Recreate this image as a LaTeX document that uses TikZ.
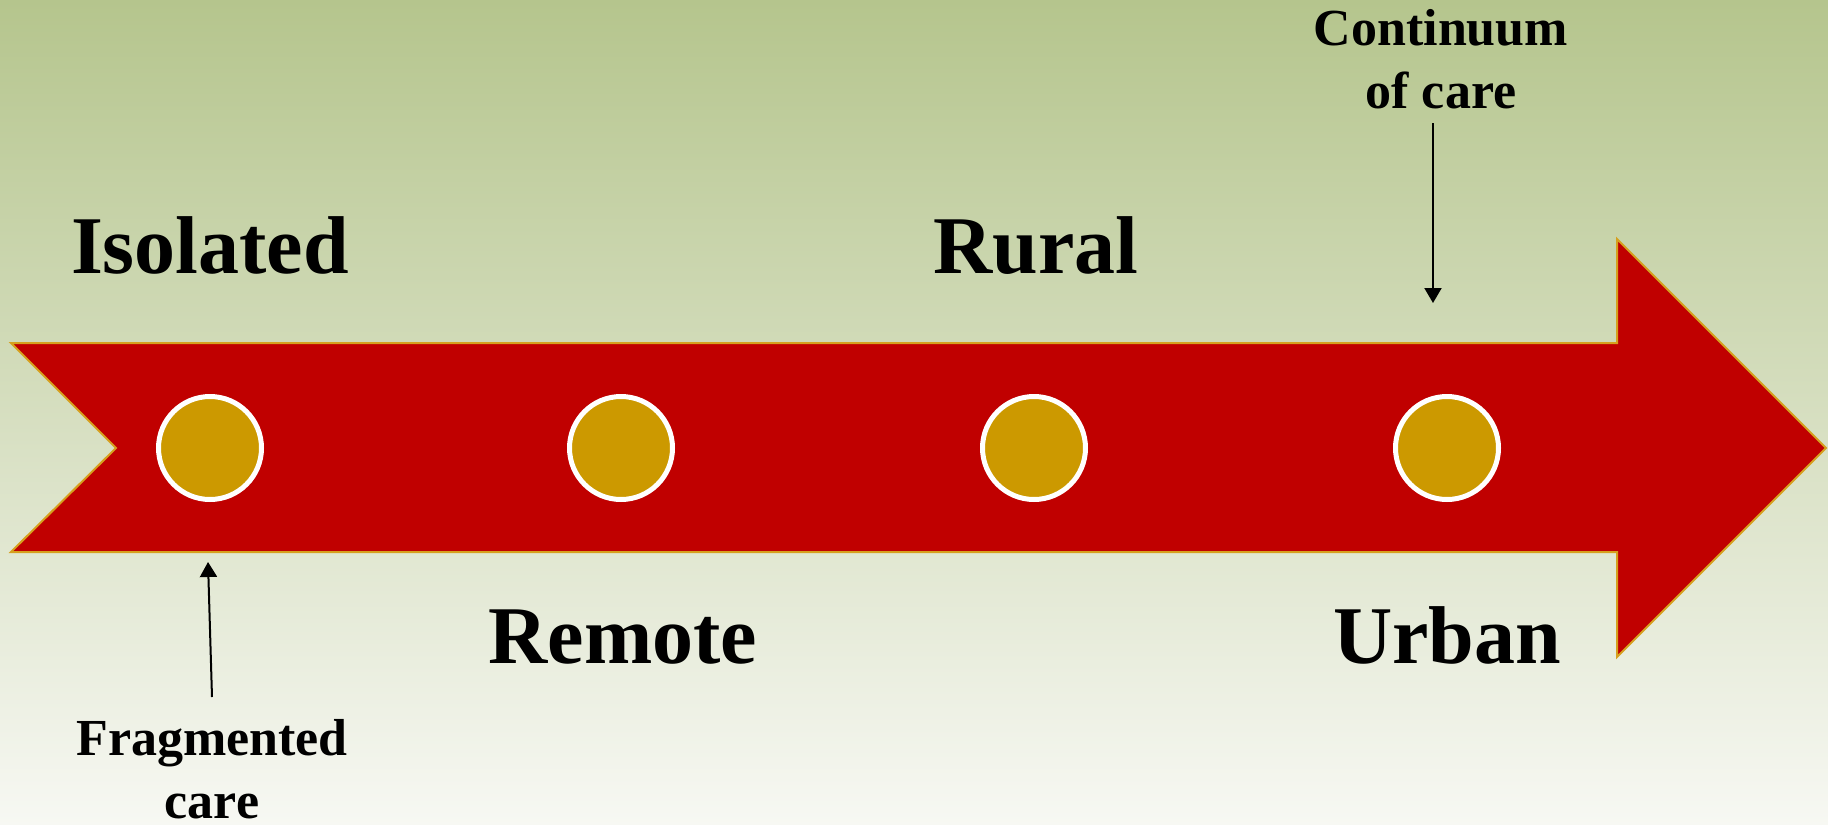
\documentclass[tikz,border=0pt]{standalone}
\usepackage{fontspec}
\setmainfont{Liberation Serif}
\usetikzlibrary{arrows.meta}
\definecolor{bgtop}{RGB}{181,197,141}
\definecolor{bgbot}{RGB}{247,248,243}
\definecolor{bandred}{RGB}{192,0,0}
\definecolor{bandedge}{RGB}{214,160,30}
\definecolor{dotfill}{RGB}{204,153,0}
\tikzset{
  bigtext/.style={font=\fontsize{41}{49}\selectfont\bfseries, anchor=base, inner sep=0pt},
  smalltext/.style={font=\fontsize{26}{31.5}\selectfont\bfseries, anchor=base, inner sep=0pt, align=center},
  dot/.style={circle, draw=white, line width=2.5pt, fill=dotfill, minimum size=51.5pt, inner sep=0pt},
  pointer/.style={draw=black, line width=1pt, -{Triangle[length=7.5pt,width=8.5pt]}},
}
\begin{document}
\begin{tikzpicture}[x=0.5pt,y=-0.5pt]
\useasboundingbox (0,0) rectangle (1828,825);
\shade[top color=bgtop, bottom color=bgbot] (0,0) rectangle (1828,825);
% band arrow
\draw[fill=bandred, draw=bandedge, line width=1pt, line join=miter]
  (11,343) -- (1617,343) -- (1617,239) -- (1826,448) -- (1617,657)
  -- (1617,552) -- (11,552) -- (116,448) -- cycle;
% dots
\node[dot] (d1) at (210,448) {};
\node[dot] (d2) at (621,448) {};
\node[dot] (d3) at (1034,448) {};
\node[dot] (d4) at (1447,448) {};
% labels
\node[bigtext] (isolated) at (210,273) {Isolated};
\node[bigtext] (rural) at (1036,273) {Rural};
\node[bigtext] (remote) at (623,663) {Remote};
\node[bigtext] (urban) at (1447,663) {Urban};
\node[smalltext] (cont) at (1441,108) {Continuum\\of\ care};
\node[smalltext] (frag) at (212,818) {Fragmented\\care};
% pointers
\coordinate (ctail) at (1433,123);
\coordinate (chead) at (1433,303);
\coordinate (ftail) at (212,697);
\coordinate (fhead) at (208,562);
\draw[pointer] (ctail) -- (chead);
\draw[pointer] (ftail) -- (fhead);
\end{tikzpicture}
\end{document}
